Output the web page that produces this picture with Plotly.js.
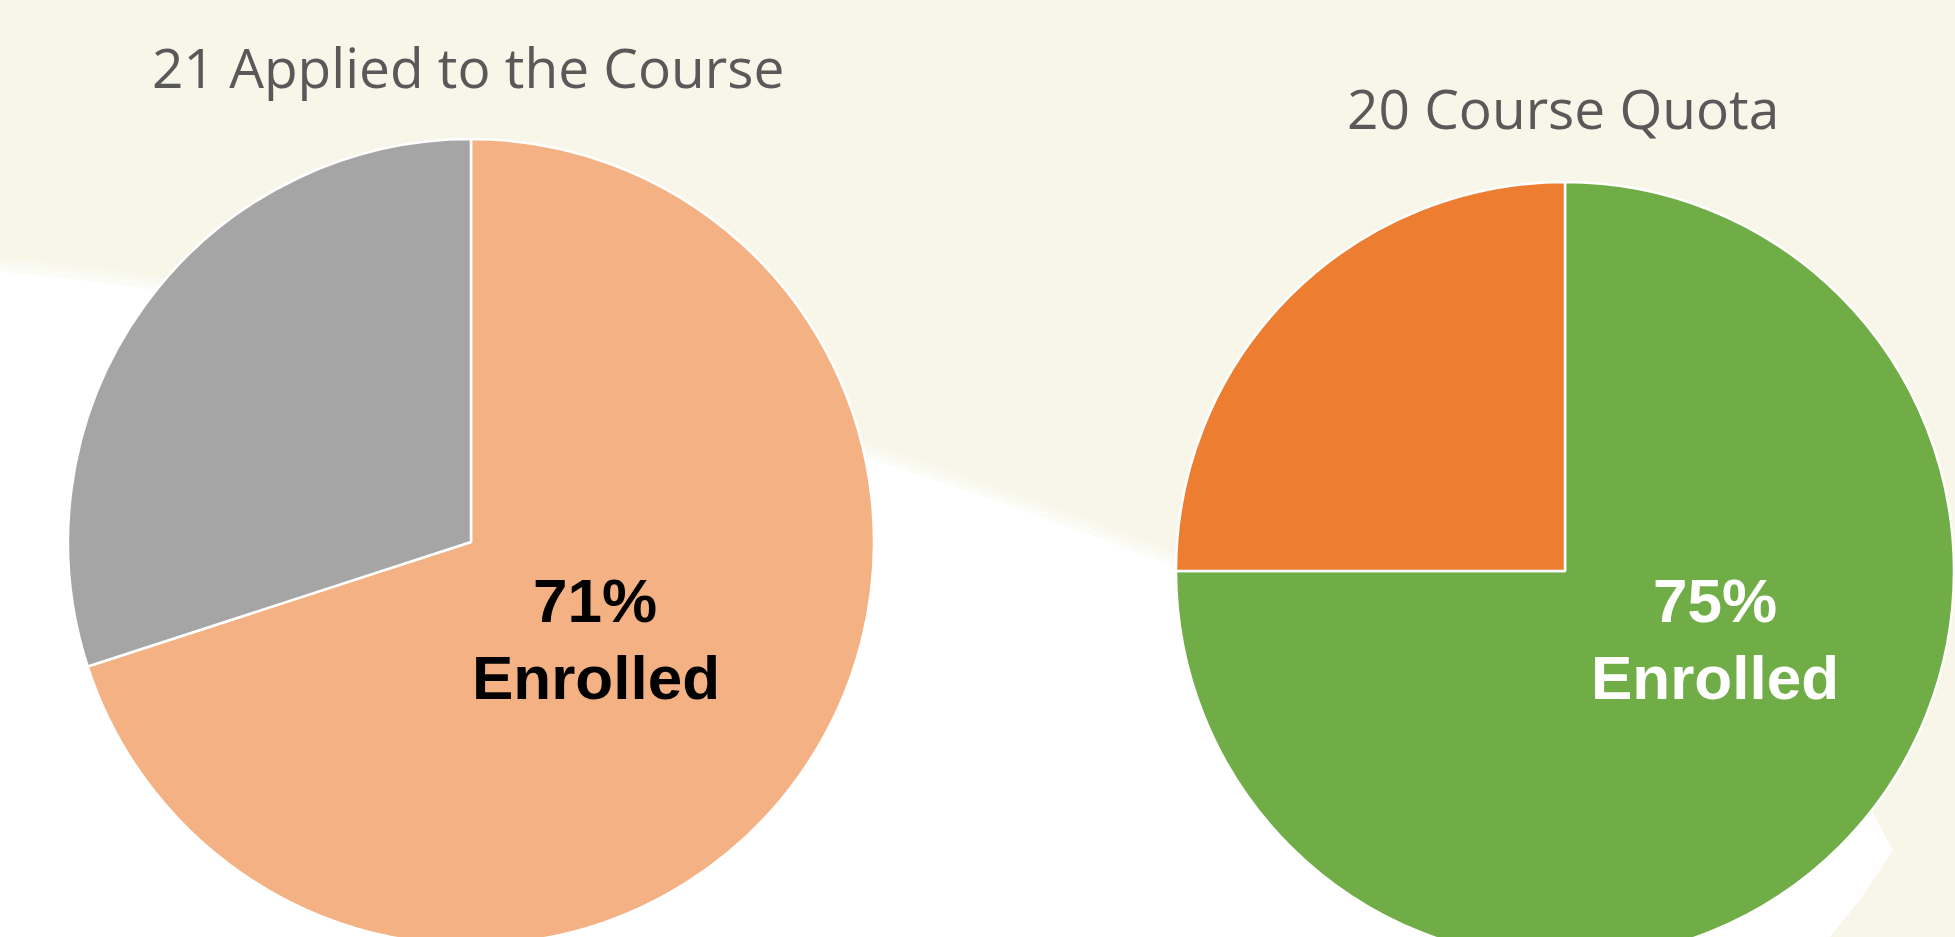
<!DOCTYPE html>
<html>
<head>
<meta charset="utf-8">
<script src="https://cdn.plot.ly/plotly-3.0.1.min.js"></script>
<style>
  html, body { margin: 0; padding: 0; overflow: hidden; background: #F7F6E8; }
  #chart { width: 1955px; height: 1000px; }
</style>
</head>
<body>
<div id="chart"></div>
<script>
// ---- Data ----
const leftTitle = '21 Applied to the Course';
const leftLabels = ['Enrolled', 'Not Enrolled'];
const leftValues = [70, 30];            // slice shares as drawn
const leftColors = ['#F4B183', '#A5A5A5'];
const leftCenterPct = '71%';

const rightTitle = '20 Course Quota';
const rightLabels = ['Enrolled', 'Remaining'];
const rightValues = [75, 25];
const rightColors = ['#70AD47', '#ED7D31'];
const rightCenterPct = '75%';

const centerWord = 'Enrolled';

// ---- Layout helpers ----
const W = 1955, H = 1000;
const px = x => x / W;
const py = y => 1 - y / H;

function pieTrace(labels, values, colors, cx, cy, r) {
  return {
    type: 'pie',
    labels: labels,
    values: values,
    sort: false,
    direction: 'clockwise',
    rotation: 0,
    textinfo: 'none',
    hoverinfo: 'label+percent',
    showlegend: false,
    marker: { colors: colors, line: { color: '#FFFFFF', width: 2.5 } },
    domain: { x: [px(cx - r), px(cx + r)], y: [py(cy + r), py(cy - r)] }
  };
}

const data = [
  pieTrace(leftLabels, leftValues, leftColors, 471, 542, 403),
  pieTrace(rightLabels, rightValues, rightColors, 1565, 571, 389)
];

// background swoosh (white band), drawn with a soft edge
function swoosh(dy) {
  return [
    ['M', 0, 272 + dy],
    ['C', 350, 302 + dy, 800, 420 + dy, 1175, 567 + dy],
    ['L', 1600, 780],
    ['L', 1860, 790],
    ['L', 1893 + dy * 0.5, 850],
    ['L', 1860 + dy * 0.5, 900],
    ['L', 1830 + dy * 0.5, 937],
    ['L', 1830, 1000],
    ['L', 0, 1000]
  ];
}
function buildPath(list) {
  return list.map(seg => {
    const cmd = seg[0];
    const nums = seg.slice(1);
    const out = [];
    for (let i = 0; i < nums.length; i += 2) out.push(px(nums[i]).toFixed(5) + ',' + py(nums[i + 1]).toFixed(5));
    return cmd + ' ' + out.join(' ');
  }).join(' ') + ' Z';
}
const bgShapes = [[-14, 0.3], [-7, 0.45], [0, 1]].map(([dy, op]) => ({
  type: 'path', xref: 'paper', yref: 'paper', path: buildPath(swoosh(dy)),
  fillcolor: '#FFFFFF', opacity: op, line: { width: 0 }, layer: 'below'
}));

function ann(text, x, y, size, color, family, bold) {
  return {
    text: bold ? '<b>' + text + '</b>' : text,
    xref: 'paper', yref: 'paper',
    x: px(x), y: py(y),
    xanchor: 'center', yanchor: 'middle',
    showarrow: false,
    font: { size: size, color: color, family: family }
  };
}

const titleFont = '"Open Sans", "Noto Sans", sans-serif';
const labelFont = '"Liberation Sans", Arial, sans-serif';

const layout = {
  width: W,
  height: H,
  margin: { l: 0, r: 0, t: 0, b: 0, pad: 0 },
  paper_bgcolor: '#F7F6E8',
  plot_bgcolor: 'rgba(0,0,0,0)',
  showlegend: false,
  shapes: bgShapes,
  annotations: [
    ann(leftTitle, 468, 66, 55, '#595959', titleFont, false),
    ann(rightTitle, 1563, 108, 55, '#595959', titleFont, false),
    ann(leftCenterPct, 595, 600, 62, '#000000', labelFont, true),
    ann(centerWord, 596, 677, 62, '#000000', labelFont, true),
    ann(rightCenterPct, 1715, 600, 62, '#FFFFFF', labelFont, true),
    ann(centerWord, 1715, 677, 62, '#FFFFFF', labelFont, true)
  ]
};

Plotly.newPlot('chart', data, layout, { displayModeBar: false, staticPlot: true });
</script>
</body>
</html>
